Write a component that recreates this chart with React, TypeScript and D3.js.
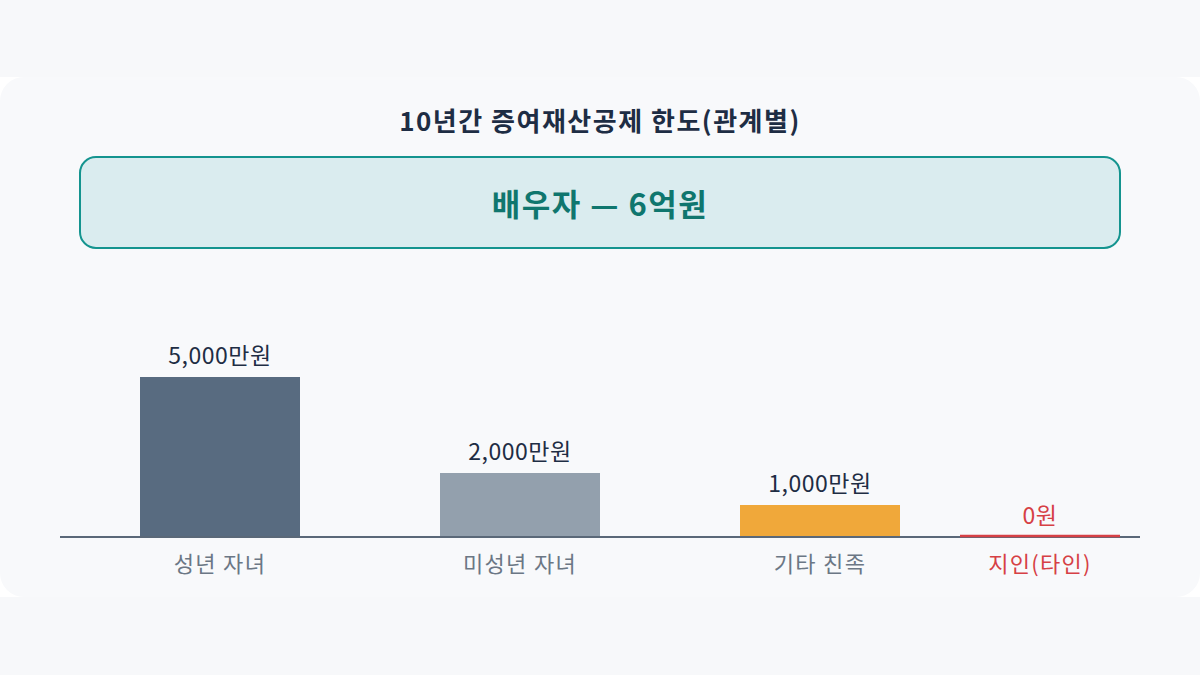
import * as d3 from "d3";
import { useEffect, useRef } from "react";

const title = "10년간 증여재산공제 한도(관계별)";
const spouseLabel = "배우자 — 6억원";

const categories = ["성년 자녀", "미성년 자녀", "기타 친족"];
const amounts = [5000, 2000, 1000];
const amountLabels = ["5,000만원", "2,000만원", "1,000만원"];
const barColors = ["#586b80", "#93a0ad", "#f0a83a"];

const zeroCategory = "지인(타인)";
const zeroAmount = 0;
const zeroLabel = "0원";

const App = () => {
  const svgRef = useRef(null);

  const width = 1200;
  const height = 675;

  useEffect(() => {
    const svg = d3.select(svgRef.current).attr("viewBox", `0, 0, ${width}, ${height}`);
    svg.selectAll("*").remove();

    const font = "'Noto Sans CJK KR', 'Noto Sans', sans-serif";

    svg.append("rect").attr("width", width).attr("height", height).attr("fill", "#f7f8fa");
    svg.append("rect").attr("x", 0).attr("y", 77).attr("width", width).attr("height", 520).attr("fill", "#ffffff");
    svg
      .append("rect")
      .attr("x", 0)
      .attr("y", 77)
      .attr("width", width)
      .attr("height", 520)
      .attr("rx", 24)
      .attr("fill", "#f8f9fb");

    svg
      .append("text")
      .attr("x", width / 2)
      .attr("y", 119)
      .attr("text-anchor", "middle")
      .attr("dominant-baseline", "central")
      .attr("font-family", font)
      .attr("font-weight", 700)
      .attr("font-size", 26)
      .attr("letter-spacing", 1.5)
      .attr("fill", "#1e2d44")
      .text(title);

    svg
      .append("rect")
      .attr("x", 80)
      .attr("y", 157)
      .attr("width", 1040)
      .attr("height", 91)
      .attr("rx", 16)
      .attr("fill", "#daecef")
      .attr("stroke", "#14948f")
      .attr("stroke-width", 2);

    svg
      .append("text")
      .attr("x", width / 2)
      .attr("y", 202)
      .attr("text-anchor", "middle")
      .attr("dominant-baseline", "central")
      .attr("font-family", font)
      .attr("font-weight", 700)
      .attr("font-size", 31)
      .attr("letter-spacing", 1.5)
      .attr("fill", "#0f766e")
      .text(spouseLabel);

    const baseline = 537;
    const y = d3.scaleLinear().domain([0, 5000]).range([baseline, 377]);

    const x = d3
      .scaleBand()
      .domain(categories)
      .range([70, 970])
      .paddingInner(7 / 15)
      .paddingOuter(7 / 30);

    const xZero = d3.scaleBand().domain([zeroCategory]).range([960, 1120]);

    const bars = svg.append("g");
    bars
      .selectAll("rect")
      .data(categories)
      .join("rect")
      .attr("x", (d) => x(d))
      .attr("y", (_, i) => y(amounts[i]))
      .attr("width", x.bandwidth())
      .attr("height", (_, i) => baseline - y(amounts[i]))
      .attr("fill", (_, i) => barColors[i]);

    bars
      .selectAll("text.value")
      .data(categories)
      .join("text")
      .attr("class", "value")
      .attr("x", (d) => x(d) + x.bandwidth() / 2)
      .attr("y", (_, i) => y(amounts[i]) - 13)
      .attr("text-anchor", "middle")
      .attr("font-family", font)
      .attr("font-size", 23)
      .attr("letter-spacing", 0.5)
      .attr("fill", "#1e2d44")
      .text((_, i) => amountLabels[i]);

    bars
      .selectAll("text.cat")
      .data(categories)
      .join("text")
      .attr("class", "cat")
      .attr("x", (d) => x(d) + x.bandwidth() / 2)
      .attr("y", baseline + 35)
      .attr("text-anchor", "middle")
      .attr("font-family", font)
      .attr("font-size", 22)
      .attr("letter-spacing", 1.3)
      .attr("fill", "#6b7785")
      .text((d) => d);

    // axis line
    svg
      .append("line")
      .attr("x1", 60)
      .attr("x2", 1140)
      .attr("y1", baseline)
      .attr("y2", baseline)
      .attr("stroke", "#5a6878")
      .attr("stroke-width", 2);

    // zero bar shown as a red marker on the axis
    svg
      .append("line")
      .attr("x1", xZero(zeroCategory))
      .attr("x2", xZero(zeroCategory) + xZero.bandwidth())
      .attr("y1", y(zeroAmount) - 1)
      .attr("y2", y(zeroAmount) - 1)
      .attr("stroke", "#d64045")
      .attr("stroke-width", 2.5);

    svg
      .append("text")
      .attr("x", xZero(zeroCategory) + xZero.bandwidth() / 2)
      .attr("y", y(zeroAmount) - 13)
      .attr("text-anchor", "middle")
      .attr("font-family", font)
      .attr("font-size", 23)
      .attr("letter-spacing", 0.5)
      .attr("fill", "#d64045")
      .text(zeroLabel);

    svg
      .append("text")
      .attr("x", xZero(zeroCategory) + xZero.bandwidth() / 2)
      .attr("y", baseline + 35)
      .attr("text-anchor", "middle")
      .attr("font-family", font)
      .attr("font-size", 22)
      .attr("letter-spacing", 1.3)
      .attr("fill", "#d64045")
      .text(zeroCategory);
  }, []);

  return (
    <div style={{ position: "fixed", left: 0, top: 0, width, height, background: "#f7f8fa" }}>
      <svg width={width} height={height} ref={svgRef} style={{ display: "block" }} />
    </div>
  );
};

export default App;
